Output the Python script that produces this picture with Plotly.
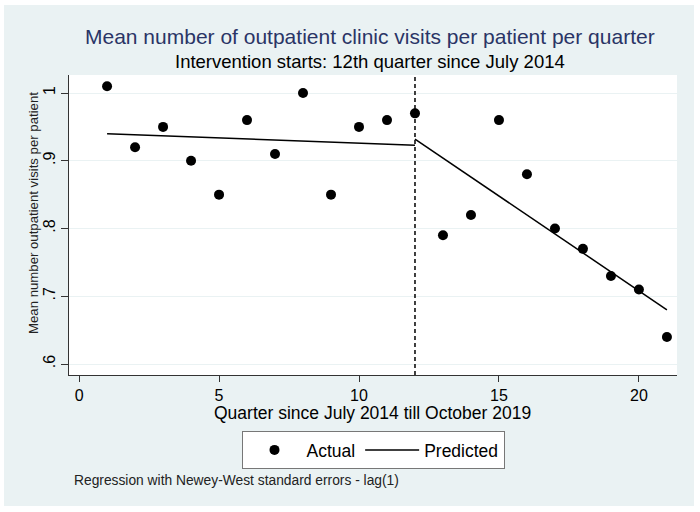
import plotly.graph_objects as go

quarters = list(range(1, 22))
actual = [1.01, 0.92, 0.95, 0.90, 0.85, 0.96, 0.91, 1.00, 0.85, 0.95, 0.96, 0.97,
          0.79, 0.82, 0.96, 0.88, 0.80, 0.77, 0.73, 0.71, 0.64]
pred_pre_x = [1, 12]
pred_pre_y = [0.940, 0.923]
pred_post_x = [12, 21]
pred_post_y = [0.932, 0.680]
intervention_q = 12
x_ticks = [0, 5, 10, 15, 20]
y_ticks = [0.6, 0.7, 0.8, 0.9, 1.0]
y_ticklabels = [".6", ".7", ".8", ".9", "1"]

FONT = "Arial, Liberation Sans, sans-serif"
BG = "#eaf2f3"

L, R, T, B = 69, 23, 75, 137
W, H = 700, 512
pw, ph = W - L - R, H - T - B

def px2x(px):
    return (px - L) / pw

def py2y(py):
    return (H - B - py) / ph

fig = go.Figure()
fig.add_trace(go.Scatter(x=quarters, y=actual, mode="markers", name="Actual",
                         marker=dict(color="black", size=10)))
fig.add_trace(go.Scatter(x=pred_pre_x, y=pred_pre_y, mode="lines", name="Predicted",
                         line=dict(color="black", width=1.5)))
fig.add_trace(go.Scatter(x=pred_post_x, y=pred_post_y, mode="lines", name="Predicted",
                         showlegend=False, line=dict(color="black", width=1.5)))

white_border = dict(fillcolor="white", line=dict(width=0), layer="above",
                    xref="paper", yref="paper", type="rect")
shapes = [
    dict(type="line", xref="x", yref="paper", x0=intervention_q, x1=intervention_q,
         y0=0, y1=1, line=dict(color="black", width=1.5, dash="4px,3px")),
    dict(white_border, x0=px2x(0), x1=px2x(4), y0=py2y(H), y1=py2y(0)),
    dict(white_border, x0=px2x(694), x1=px2x(W), y0=py2y(H), y1=py2y(0)),
    dict(white_border, x0=px2x(0), x1=px2x(W), y0=py2y(5), y1=py2y(0)),
    dict(white_border, x0=px2x(0), x1=px2x(W), y0=py2y(H), y1=py2y(506)),
]

annotations = [
    dict(text="Mean number of outpatient clinic visits per patient per quarter",
         xref="paper", yref="paper", x=px2x(370), y=py2y(37), showarrow=False,
         xanchor="center", yanchor="middle",
         font=dict(family=FONT, size=21, color="#2a3566")),
    dict(text="Intervention starts: 12th quarter since July 2014",
         xref="paper", yref="paper", x=px2x(370), y=py2y(61), showarrow=False,
         xanchor="center", yanchor="middle",
         font=dict(family=FONT, size=18.5, color="black")),
    dict(text="Quarter since July 2014 till October 2019",
         xref="paper", yref="paper", x=px2x(372), y=py2y(413), showarrow=False,
         xanchor="center", yanchor="middle",
         font=dict(family=FONT, size=17.5, color="black")),
    dict(text="Mean number outpatient visits per patient",
         xref="paper", yref="paper", x=px2x(33), y=py2y(213), showarrow=False,
         xanchor="center", yanchor="middle", textangle=-90,
         font=dict(family=FONT, size=13.2, color="#222")),
    dict(text="Regression with Newey-West standard errors - lag(1)",
         xref="paper", yref="paper", x=px2x(72), y=py2y(480), showarrow=False,
         xanchor="left", yanchor="middle",
         font=dict(family=FONT, size=13.8, color="#222")),
]

fig.update_layout(
    width=W, height=H,
    margin=dict(l=L, r=R, t=T, b=B),
    paper_bgcolor=BG,
    plot_bgcolor="white",
    font=dict(family=FONT, color="black"),
    shapes=shapes,
    annotations=annotations,
    showlegend=True,
    legend=dict(orientation="h", x=px2x(373), y=py2y(431), xanchor="center", yanchor="top",
                bgcolor="white", bordercolor="#777", borderwidth=1,
                font=dict(family=FONT, size=17.5, color="black"),
                itemwidth=54, tracegroupgap=0),
    xaxis=dict(range=[-0.36, 21.36], tickvals=x_ticks, ticks="outside", ticklen=6,
               tickcolor="#333", showline=True, linecolor="#333", linewidth=1,
               showgrid=False, zeroline=False,
               tickfont=dict(family=FONT, size=16, color="black")),
    yaxis=dict(range=[0.5838, 1.0266], tickvals=y_ticks, ticktext=y_ticklabels,
               ticks="outside", ticklen=7, tickcolor="#333", tickangle=-90,
               showline=True, linecolor="#333", linewidth=1,
               showgrid=True, gridcolor=BG, gridwidth=1, zeroline=False,
               tickfont=dict(family=FONT, size=16, color="black")),
)

fig.write_html("out.html", config={"displayModeBar": False},
               post_script="document.body.style.margin='0';document.body.style.padding='0';")
